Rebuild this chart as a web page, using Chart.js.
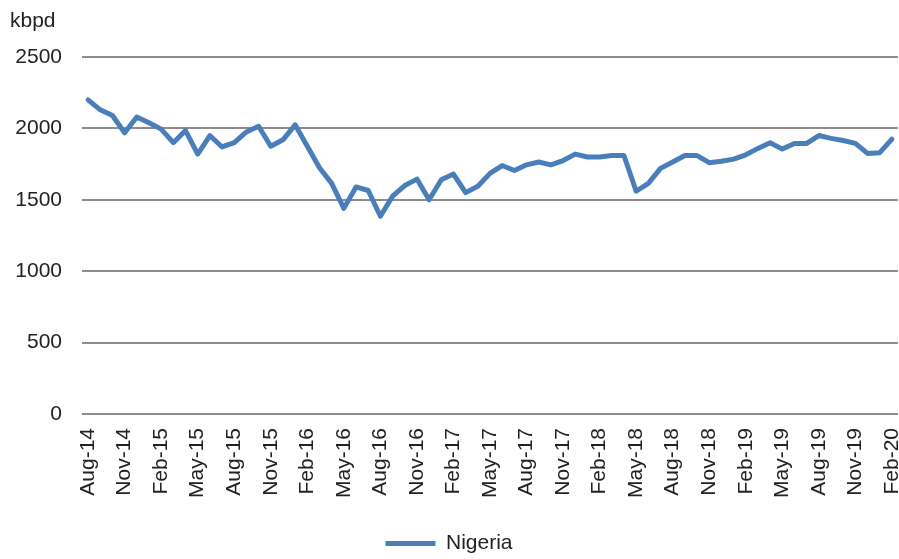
<!DOCTYPE html>
<html>
<head>
<meta charset="utf-8">
<script src="https://cdn.jsdelivr.net/npm/chart.js@4"></script>
<style>
  html, body { margin: 0; padding: 0; background: #fff; }
  canvas { display: block; }
</style>
</head>
<body>
<canvas id="Nigeria" width="899" height="559"></canvas>
<script>
const months = [
  'Aug-14', 'Sep-14', 'Oct-14', 'Nov-14', 'Dec-14',
  'Jan-15', 'Feb-15', 'Mar-15', 'Apr-15', 'May-15', 'Jun-15', 'Jul-15', 'Aug-15', 'Sep-15', 'Oct-15', 'Nov-15', 'Dec-15',
  'Jan-16', 'Feb-16', 'Mar-16', 'Apr-16', 'May-16', 'Jun-16', 'Jul-16', 'Aug-16', 'Sep-16', 'Oct-16', 'Nov-16', 'Dec-16',
  'Jan-17', 'Feb-17', 'Mar-17', 'Apr-17', 'May-17', 'Jun-17', 'Jul-17', 'Aug-17', 'Sep-17', 'Oct-17', 'Nov-17', 'Dec-17',
  'Jan-18', 'Feb-18', 'Mar-18', 'Apr-18', 'May-18', 'Jun-18', 'Jul-18', 'Aug-18', 'Sep-18', 'Oct-18', 'Nov-18', 'Dec-18',
  'Jan-19', 'Feb-19', 'Mar-19', 'Apr-19', 'May-19', 'Jun-19', 'Jul-19', 'Aug-19', 'Sep-19', 'Oct-19', 'Nov-19', 'Dec-19',
  'Jan-20', 'Feb-20'
]

// crude oil production, kbpd
const nigeria = [
  2200, 2130, 2090, 1970, 2080,
  2040, 1995, 1900, 1985, 1820, 1950, 1870, 1900, 1975, 2015, 1875, 1920,
  2025, 1875, 1725, 1615, 1440, 1590, 1565, 1385, 1525, 1600, 1645, 1500,
  1640, 1680, 1550, 1595, 1685, 1740, 1705, 1745, 1765, 1745, 1775, 1820,
  1800, 1800, 1810, 1810, 1560, 1615, 1720, 1765, 1810, 1810, 1760, 1770,
  1785, 1815, 1860, 1900, 1855, 1895, 1895, 1950, 1930, 1915, 1895, 1825,
  1830, 1925
]

// only every third month gets a label on the axis
const shownTicks = [
  'Aug-14', 'Nov-14', 'Feb-15', 'May-15', 'Aug-15', 'Nov-15', 'Feb-16', 'May-16', 'Aug-16', 'Nov-16',
  'Feb-17', 'May-17', 'Aug-17', 'Nov-17', 'Feb-18', 'May-18', 'Aug-18', 'Nov-18', 'Feb-19', 'May-19',
  'Aug-19', 'Nov-19', 'Feb-20'
]

const yMin = 0
const yMax = 2500
const yStep = 500
const unitLabel = 'kbpd'

const textFont = { family: "'Liberation Sans', Arial, sans-serif", size: 21 }
const textColor = '#222'

const unitPlugin = {
  id: 'unitLabel',
  afterDraw(chart) {
    const ctx = chart.ctx
    ctx.save()
    ctx.font = `${textFont.size}px ${textFont.family}`
    ctx.fillStyle = textColor
    ctx.textAlign = 'left'
    ctx.textBaseline = 'alphabetic'
    ctx.fillText(unitLabel, 10, 27)
    ctx.restore()
  }
}

const ctx = document.querySelector('#Nigeria')
const productionChart = new Chart(ctx, {
  type: 'line',
  data: {
    labels: months,
    datasets: [
      {
        label: 'Nigeria',
        data: nigeria,
        borderColor: '#4a7ebb',
        backgroundColor: '#4a7ebb',
        borderWidth: 5,
        borderJoinStyle: 'round',
        borderCapStyle: 'round',
        pointRadius: 0,
        pointHoverRadius: 0,
        pointStyle: 'line',
        tension: 0,
        fill: false
      }
    ]
  },
  options: {
    responsive: false,
    animation: false,
    devicePixelRatio: 1,
    layout: { padding: { top: 57, right: 1, left: 0, bottom: -5 } },
    plugins: {
      legend: {
        position: 'bottom',
        labels: {
          usePointStyle: true,
          pointStyleWidth: 50,
          font: textFont,
          color: textColor,
          padding: 10
        }
      },
      tooltip: { enabled: false },
      title: { display: false }
    },
    scales: {
      x: {
        offset: true,
        grid: { display: false, drawTicks: false },
        border: { display: false },
        afterFit(scale) {
          scale.height = 109
          scale.paddingLeft = 0
          scale.paddingRight = 0
        },
        ticks: {
          autoSkip: false,
          minRotation: 90,
          maxRotation: 90,
          padding: 14,
          font: textFont,
          color: textColor,
          callback(value, index) {
            const lbl = months[index]
            return shownTicks.includes(lbl) ? lbl : ''
          }
        }
      },
      y: {
        min: yMin,
        max: yMax,
        grid: { color: '#8c8c8c', lineWidth: 2, drawTicks: false },
        border: { display: false },
        afterFit(scale) { scale.width = 82 },
        ticks: {
          stepSize: yStep,
          padding: 20,
          font: textFont,
          color: textColor,
          callback: value => String(value)
        }
      }
    }
  },
  plugins: [unitPlugin]
})
</script>
</body>
</html>
